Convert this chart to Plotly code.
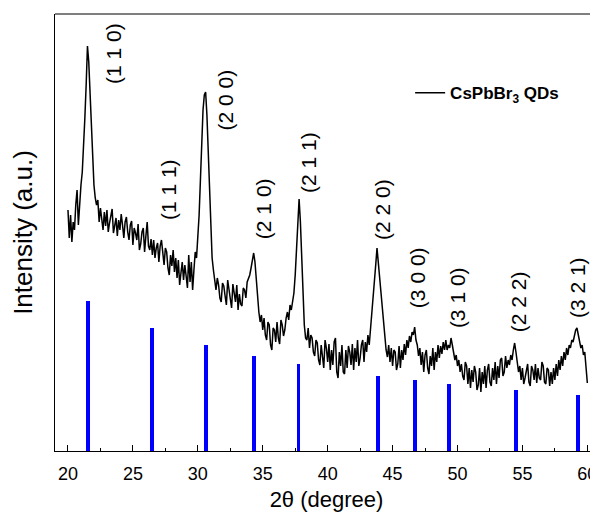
import numpy as np
import plotly.graph_objects as go

# ---- data ----
angle_start, angle_step = 20.0, 0.1
intensity = [
    241, 213, 236, 209, 229, 221, 246, 261, 226, 251,   # 20.0-20.9
    266, 279, 301, 333, 366, 405, 389, 356, 321, 286,   # 21
    266, 253, 246, 251, 229, 243, 231, 221, 239, 225,   # 22
    241, 219, 228, 236, 242, 218, 226, 233, 215, 231,   # 23
    221, 237, 226, 213, 229, 234, 219, 211, 226, 230,   # 24
    206, 223, 218, 211, 227, 201, 207, 219, 223, 199,   # 25
    215, 229, 205, 201, 212, 196, 211, 193, 203, 208,   # 26
    189, 205, 211, 195, 186, 203, 199, 183, 176, 196,   # 27
    185, 201, 179, 193, 173, 191, 166, 178, 189, 171,   # 28
    186, 175, 163, 196, 169, 189, 161, 181, 199, 193,   # 29
    211, 236, 271, 311, 341, 356, 359, 336, 296, 251,   # 30
    216, 193, 181, 169, 161, 173, 166, 153, 149, 168,   # 31
    165, 155, 146, 171, 163, 151, 143, 167, 159, 149,   # 32
    166, 141, 157, 147, 145, 163, 161, 153, 169, 173,   # 33
    176, 183, 193, 198, 189, 169, 153, 139, 129, 136,   # 34
    121, 133, 116, 111, 129, 126, 106, 101, 123, 121,   # 35
    109, 129, 113, 107, 131, 126, 115, 121, 133, 139,   # 36
    131, 146, 141, 151, 158, 176, 203, 229, 252, 229,   # 37
    189, 151, 126, 113, 111, 123, 103, 116, 113, 99,    # 38
    95, 111, 108, 91, 86, 106, 93, 83, 111, 103,        # 39
    89, 107, 81, 101, 86, 109, 113, 79, 73, 99,         # 40
    85, 106, 79, 77, 101, 83, 105, 99, 86, 107,         # 41
    81, 103, 89, 111, 85, 93, 106, 111, 89, 109,        # 42
    99, 116, 106, 121, 133, 148, 166, 186, 203, 189,    # 43
    173, 159, 146, 126, 111, 101, 94, 106, 89, 103,     # 44
    85, 101, 99, 81, 87, 105, 83, 101, 91, 107,         # 45
    96, 111, 103, 115, 109, 119, 116, 124, 111, 106,    # 46
    95, 103, 86, 99, 79, 96, 101, 83, 77, 95,           # 47
    85, 103, 81, 99, 89, 106, 93, 105, 97, 109,         # 48
    101, 111, 101, 106, 103, 113, 106, 99, 91, 96,      # 49
    85, 91, 79, 87, 75, 71, 89, 85, 67, 83,             # 50
    63, 81, 69, 85, 79, 61, 66, 83, 59, 79,             # 51
    67, 85, 63, 81, 87, 69, 65, 83, 71, 89,             # 52
    67, 85, 73, 91, 93, 75, 79, 95, 83, 91,             # 53
    86, 96, 91, 101, 108, 99, 86, 79, 85, 71,           # 54
    83, 67, 73, 81, 87, 69, 65, 85, 81, 71,             # 55
    87, 68, 83, 73, 71, 89, 85, 69, 67, 83,             # 56
    81, 65, 79, 67, 83, 71, 87, 75, 91, 81,             # 57
    95, 85, 99, 91, 103, 96, 106, 103, 111, 109,        # 58
    116, 121, 123, 115, 109, 103, 106, 96, 99, 83,      # 59
    68,                                                 # 60.0
]
two_theta = np.round(angle_start + angle_step * np.arange(len(intensity)), 1)

ref_positions = [21.55, 26.45, 30.65, 34.35, 37.75, 43.9, 46.7, 49.35, 54.5, 59.25]
ref_heights = [150, 123, 106, 95, 87, 75, 71, 67, 61, 56]

peak_labels = ["(1 1 0)", "(1 1 1)", "(2 0 0)", "(2 1 0)", "(2 1 1)",
               "(2 2 0)", "(3 0 0)", "(3 1 0)", "(2 2 2)", "(3 2 1)"]
label_x = [23.47, 27.71, 32.13, 35.03, 38.49, 44.19, 46.89, 49.97, 54.67, 59.21]
label_y = [397, 261, 351, 242, 288, 241, 173, 153, 149, 163]

x_ticks = [20, 25, 30, 35, 40, 45, 50, 55, 60]

FONT = "Liberation Sans, Arial, sans-serif"

fig = go.Figure()
fig.add_trace(go.Bar(
    x=ref_positions, y=ref_heights, width=0.3,
    marker=dict(color="#0000FF", line=dict(width=0)),
    showlegend=False, hoverinfo="x",
))
fig.add_trace(go.Scatter(
    x=two_theta, y=intensity, mode="lines",
    line=dict(color="black", width=1.5),
    name="<b>CsPbBr<sub>3</sub> QDs</b>",
))

for t, lx, ly in zip(peak_labels, label_x, label_y):
    fig.add_annotation(x=lx, y=ly, xref="x", yref="y", text=t, textangle=-90,
                       showarrow=False, font=dict(family=FONT, size=21, color="black"))

fig.add_shape(type="line", xref="paper", yref="paper", x0=0, x1=1, y0=1, y1=1,
              line=dict(color="black", width=1.2))

fig.update_layout(
    width=590, height=508,
    margin=dict(l=47, r=0, t=6, b=65),
    plot_bgcolor="white", paper_bgcolor="white",
    font=dict(family=FONT, color="black"),
    bargap=0,
    showlegend=True,
    legend=dict(x=0.654, y=0.860, xanchor="left", yanchor="top",
                bgcolor="rgba(0,0,0,0)", borderwidth=0,
                font=dict(family=FONT, size=17, color="black")),
    xaxis=dict(
        range=[19.0, 60.82], tickmode="array", tickvals=x_ticks,
        ticks="inside", ticklen=6, tickwidth=1.2, tickcolor="black",
        minor=dict(dtick=2.5, tick0=20, ticks="inside", ticklen=3, tickwidth=1.2, tickcolor="black"),
        showline=True, linecolor="black", linewidth=1.2, mirror=False,
        showgrid=False, zeroline=False,
        tickfont=dict(family=FONT, size=18, color="black"),
        ticklabelstandoff=6,
        title=dict(text="2θ (degree)", font=dict(family=FONT, size=22, color="black"), standoff=8),
        automargin=False,
    ),
    yaxis=dict(
        range=[0, 437], showticklabels=False, ticks="",
        showline=True, linecolor="black", linewidth=1.2, mirror=False,
        showgrid=False, zeroline=False,
        title=dict(text="Intensity (a.u.)", font=dict(family=FONT, size=26, color="black"), standoff=16),
        automargin=False,
    ),
)

fig.write_html("out.html")
